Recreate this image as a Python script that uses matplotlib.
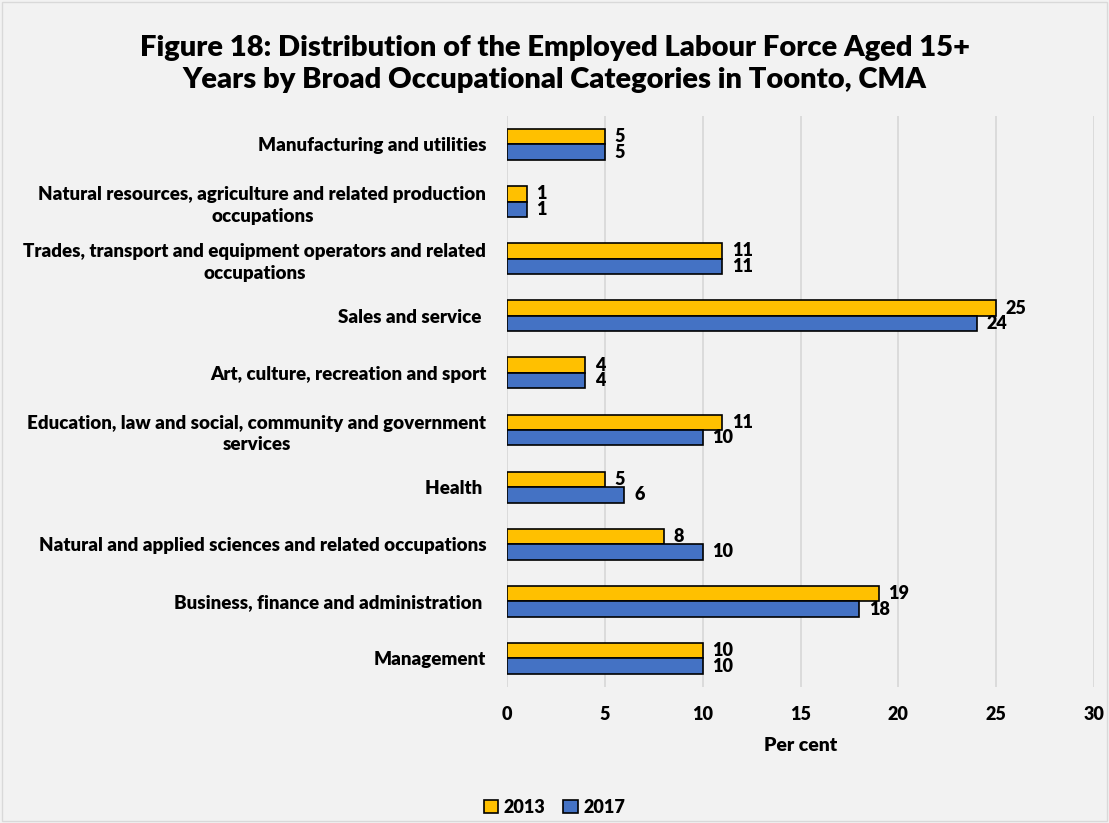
import matplotlib
matplotlib.use("Agg")
import matplotlib.pyplot as plt
from matplotlib.patches import Rectangle
import numpy as np

plt.rcParams['font.family'] = ['Lato', 'DejaVu Sans']
plt.rcParams['font.weight'] = 'bold'

categories = [
    "Management",
    "Business, finance and administration ",
    "Natural and applied sciences and related occupations",
    "Health ",
    "Education, law and social, community and government\nservices",
    "Art, culture, recreation and sport",
    "Sales and service ",
    "Trades, transport and equipment operators and related\noccupations",
    "Natural resources, agriculture and related production\noccupations",
    "Manufacturing and utilities",
]
values_2013 = [10, 19, 8, 5, 11, 4, 25, 11, 1, 5]
values_2017 = [10, 18, 10, 6, 10, 4, 24, 11, 1, 5]
series_names = ["2013", "2017"]
xticks = [0, 5, 10, 15, 20, 25, 30]

bg = "#f2f2f2"
fig = plt.figure(figsize=(11.09, 8.23), dpi=100, facecolor=bg)
ax = fig.add_axes([0.4572, 0.1652, 0.5293, 0.694], facecolor=bg)

y = np.arange(len(categories))
h = 0.27
b1 = ax.barh(y + h / 2, values_2013, height=h, color="#FFC000", edgecolor="black", linewidth=1.2, label=series_names[0], zorder=3)
b2 = ax.barh(y - h / 2, values_2017, height=h, color="#4472C4", edgecolor="black", linewidth=1.2, label=series_names[1], zorder=3)

for bars in (b1, b2):
    for r in bars:
        w = r.get_width()
        ax.annotate(f"{w:g}", (w, r.get_y() + r.get_height() / 2), xytext=(7, 0), textcoords="offset points",
                    va="center", ha="left", fontsize=13, fontweight="heavy")

ax.set_xlim(0, 30)
ax.set_ylim(-0.5, len(categories) - 0.5)
ax.set_xticks(xticks)
ax.set_xticklabels([str(t) for t in xticks], fontsize=13, fontweight="heavy")
ax.set_yticks(y)
ax.set_yticklabels(categories, fontsize=13.5, fontweight="heavy", linespacing=1.35)
for t in ax.get_yticklabels():
    t.set_multialignment("center")
ax.tick_params(axis="both", length=0)
ax.tick_params(axis="y", pad=15)
ax.tick_params(axis="x", pad=14)
ax.grid(axis="x", color="#d9d9d9", linewidth=1.3, zorder=0)
for s in ax.spines.values():
    s.set_visible(False)
ax.set_xlabel("Per cent", fontsize=14, fontweight="heavy", labelpad=10)

fig.suptitle("Figure 18: Distribution of the Employed Labour Force Aged 15+\nYears by Broad Occupational Categories in Toonto, CMA",
             fontsize=21, fontweight="heavy", y=0.958, x=0.5, linespacing=1.3)

leg = fig.legend(handles=[b1, b2], labels=series_names, loc="center", bbox_to_anchor=(0.5, 0.019),
                 ncol=2, frameon=False, fontsize=13, handlelength=0.8, handleheight=0.8,
                 handletextpad=0.3, columnspacing=1.0)
for t in leg.get_texts():
    t.set_fontweight("heavy")

fig.patches.append(Rectangle((0.002, 0.002), 0.996, 0.996, transform=fig.transFigure, fill=False,
                             edgecolor="#d9d9d9", linewidth=1))

fig.savefig("out.png", dpi=100, facecolor=bg)
